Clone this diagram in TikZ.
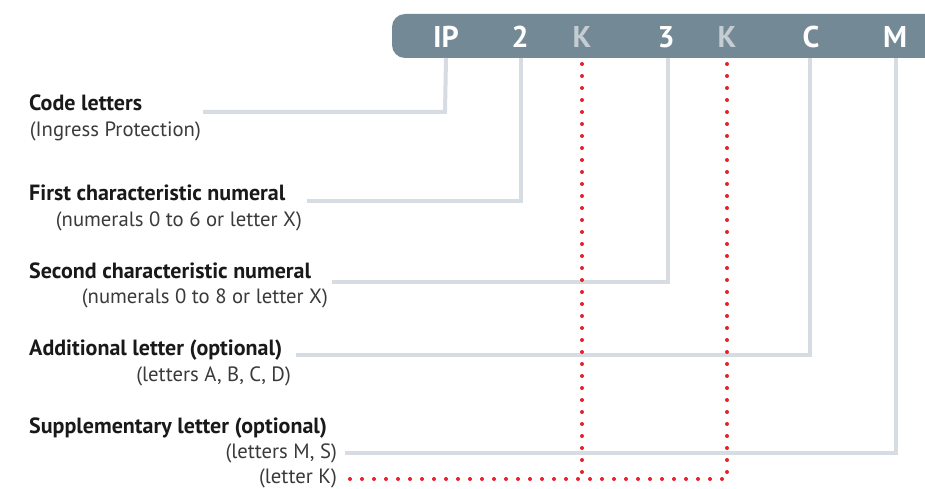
\documentclass[tikz,border=0pt]{standalone}
\usepackage{fontspec}
\setmainfont{PT Sans}
\definecolor{bannerc}{HTML}{748996}
\definecolor{kgray}{HTML}{C5CCD2}
\definecolor{lgray}{HTML}{D6DCE1}
\definecolor{rdotc}{HTML}{E8202A}
\definecolor{subc}{HTML}{3A3A3A}
\tikzset{
  code/.style={font=\fontsize{30}{30}\selectfont\bfseries, text=white, inner sep=0pt, anchor=base},
  kcode/.style={code, text=kgray},
  ttl/.style={font=\fontsize{22}{22}\selectfont\bfseries, text=black!90, inner sep=0pt, anchor=base west},
  sub/.style={font=\fontsize{20.7}{20.7}\selectfont, text=subc, inner sep=0pt, anchor=base east},
  gline/.style={draw=lgray, line width=4pt},
  rdot/.style={draw=rdotc, line width=4pt, line cap=round, dash pattern=on 0pt off 12pt}
}
\begin{document}
\begin{tikzpicture}[x=1pt,y=-1pt]
\useasboundingbox (0,0) rectangle (925,489);
\clip (0,0) rectangle (925,489);
\fill[white] (0,0) rectangle (925,489);
% banner
\path[fill=bannerc, rounded corners=13pt] (960,14) -- (392,14) -- (392,58) -- (960,58) -- cycle;
\coordinate (bb) at (0,58);
\node[code]  (ip) at (446,48) {IP};
\node[code]  (n2) at (520,48) {2};
\node[kcode] (k1) at (582,48) {K};
\node[code]  (n3) at (666,48) {3};
\node[kcode] (k2) at (727,48) {K};
\node[code]  (c)  at (811,48) {C};
\node[code]  (m)  at (895,48) {M};
% labels
\node[ttl] (t1) at (29,111) {Code letters};
\node[sub] (s1) at (201,137) {(Ingress Protection)};
\node[ttl] (t2) at (29,200) {First characteristic numeral};
\node[sub] (s2) at (302,226) {(numerals 0 to 6 or letter X)};
\node[ttl] (t3) at (29,278) {Second characteristic numeral};
\node[sub] (s3) at (328,303) {(numerals 0 to 8 or letter X)};
\node[ttl] (t4) at (29,355) {Additional letter (optional)};
\node[sub] (s4) at (291,381) {(letters A, B, C, D)};
\node[ttl] (t5) at (29,433) {Supplementary letter (optional)};
\node[sub] (s5) at (337,458) {(letters M, S)};
\node[sub] (s6) at (337,483) {(letter K)};
% connector start points
\coordinate (e1) at (203,112);
\coordinate (e2) at (307,201);
\coordinate (e3) at (332,282);
\coordinate (e4) at (296,355);
\coordinate (e5) at (345,453);
\coordinate (e6) at (347,479);
% gray connectors
\draw[gline] (ip.center |- bb) -- ([xshift=-1pt]ip.center |- e1) -- (e1);
\draw[gline] ([xshift=1pt]n2.center |- bb) -- ([xshift=1pt]n2.center |- e2) -- (e2);
\draw[gline] ([xshift=2pt]n3.center |- bb) -- ([xshift=2pt]n3.center |- e3) -- (e3);
\draw[gline] ([xshift=-1pt]c.center |- bb) -- ([xshift=-1pt]c.center |- e4) -- (e4);
\draw[gline] ([xshift=1pt]m.center |- bb) -- ([xshift=1pt]m.center |- e5) -- (e5);
% red dotted connectors
\coordinate (r0) at (0,64);
\draw[rdot] (k2.center |- r0) -- (k2.center |- e6) -- (e6);
\draw[rdot] (k1.center |- r0) -- (k1.center |- e6);
\end{tikzpicture}
\end{document}
